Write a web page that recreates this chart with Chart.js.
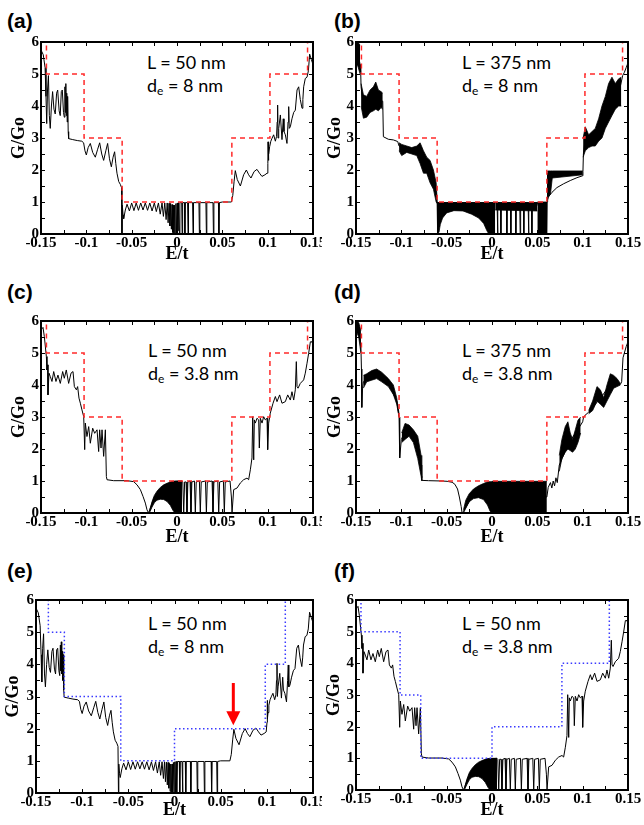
<!DOCTYPE html>
<html>
<head>
<meta charset="utf-8">
<script src="https://cdn.jsdelivr.net/npm/chart.js@4.4.0/dist/chart.umd.min.js"></script>
<style>
    body { margin: 0; background: #fff; width: 644px; height: 825px; position: relative; overflow: hidden; }
    canvas { position: absolute; }
    .tag { position: absolute; font: bold 21px 'Liberation Sans', Arial, sans-serif; line-height: 21px; color: #000; }
    .note { position: absolute; font: 18px Lato, 'Liberation Sans', sans-serif; line-height: 23px; color: #000; white-space: nowrap; }
    .note sub { font-size: 12px; vertical-align: -3px; line-height: 0; }
</style>
</head>
<body>
<div class="tag" style="left:7px;top:10px">(a)</div>
<div class="tag" style="left:334px;top:10px">(b)</div>
<div class="tag" style="left:7px;top:281px">(c)</div>
<div class="tag" style="left:334px;top:281px">(d)</div>
<div class="tag" style="left:7px;top:560px">(e)</div>
<div class="tag" style="left:334px;top:560px">(f)</div>

<div class="note" style="left:147px;top:51px">L = 50 nm<br>d<sub>e</sub> = 8 nm</div>
<div class="note" style="left:462px;top:51px">L = 375 nm<br>d<sub>e</sub> = 8 nm</div>
<div class="note" style="left:148px;top:339px">L = 50 nm<br>d<sub>e</sub> = 3.8 nm</div>
<div class="note" style="left:462px;top:339px">L = 375 nm<br>d<sub>e</sub> = 3.8 nm</div>
<div class="note" style="left:148px;top:612px">L = 50 nm<br>d<sub>e</sub> = 8 nm</div>
<div class="note" style="left:462px;top:612px">L = 50 nm<br>d<sub>e</sub> = 3.8 nm</div>

<script>
// axis ticks
const xTicks = [-0.15, -0.1, -0.05, 0, 0.05, 0.1, 0.15];
const xTickLabels = ['-0.15', '-0.1', '-0.05', '0', '0.05', '0.1', '0.15'];
const xMinor = [-0.15, -0.125, -0.1, -0.075, -0.05, -0.025, 0, 0.025, 0.05, 0.075, 0.1, 0.125, 0.15];
const yTicks = [0, 1, 2, 3, 4, 5, 6];
const yMinor = [0, 0.5, 1, 1.5, 2, 2.5, 3, 3.5, 4, 4.5, 5, 5.5, 6];

// ideal steps (red dashed, a-d)
const redStepE = [-0.15, -0.144, -0.1025, -0.0605, 0.0605, 0.1025, 0.144, 0.15];
const redStepG = [6, 5, 3, 1, 3, 5, 6, 6];
// ideal steps (blue dotted, e and f)
const blueStepE_e = [-0.15, -0.1366, -0.1193, -0.0582, 0.0, 0.0983, 0.12, 0.15];
const blueStepG_e = [6, 5, 3, 1, 2, 4, 6, 6];
const blueStepE_f = [-0.15, -0.1445, -0.1014, -0.0786, 0.0, 0.0771, 0.1294, 0.15];
const blueStepG_f = [6, 5, 3, 1, 2, 4, 6, 6];

// L = 50 nm, de = 8 nm  (panels a and e)
const curveA = [
    [-0.150,5.75],[-0.1475,5.6],[-0.1455,5.2],[-0.1445,4.3],[-0.1437,3.45],[-0.1428,4.5],[-0.1418,4.95],[-0.1408,3.7],
    [-0.1398,3.3],[-0.1385,4.0],[-0.1372,4.45],[-0.1357,3.9],[-0.1343,3.75],[-0.1328,4.4],[-0.1316,4.5],[-0.1300,3.85],
    [-0.1288,3.7],[-0.1276,4.45],[-0.1265,4.5],[-0.1252,3.8],[-0.1243,3.65],[-0.1236,4.6],[-0.1231,3.8],[-0.1226,4.7],
    [-0.1221,3.7],[-0.1216,4.4],[-0.1211,3.5],[-0.1206,4.3],[-0.1200,3.2],[-0.1195,2.98],[-0.115,2.95],[-0.110,2.92],
    [-0.105,2.9],[-0.103,2.85],[-0.1015,2.6],[-0.1000,2.47],[-0.098,2.7],[-0.0956,2.83],[-0.093,2.55],[-0.0901,2.4],
    [-0.0875,2.65],[-0.0853,2.85],[-0.083,2.5],[-0.0809,2.3],[-0.0785,2.6],[-0.0765,2.83],[-0.0745,2.35],[-0.0724,2.1],
    [-0.0705,2.4],[-0.0688,2.57],[-0.0675,2.2],[-0.0662,1.9],[-0.0643,1.64],[-0.0625,1.55],[-0.0612,1.45],[-0.0607,0],
    [-0.0603,0.9],[-0.0595,0.6],[-0.0588,0.48],[-0.057,0.75],[-0.0551,0.93],
    [-0.0525,0.72],[-0.050,0.97],[-0.0475,0.73],[-0.045,0.97],[-0.0425,0.74],[-0.040,0.97],[-0.0375,0.75],[-0.035,0.97],
    [-0.0325,0.74],[-0.030,0.97],[-0.0275,0.72],[-0.025,0.97],[-0.0228,0.7],[-0.0205,0.97],[-0.0185,0.62],[-0.0165,0.97],
    [-0.015,0.55],[-0.0135,0.97],[-0.012,0.45],[-0.0108,0.97],[-0.0098,0.35],[-0.0088,0.96],[-0.0078,0.25],[-0.0070,0.95],
    [-0.0062,0.15],[-0.0055,0.92],[-0.0048,0.05],[-0.0041,0.9],[-0.0034,0],[-0.0027,0.9],[-0.002,0],[-0.0012,0.95],
    [-0.0005,0],[0.0003,0.97],[0.001,0.1],[0.0017,0.98],
    [0.0022,0.98],[0.0027,0],[0.0032,0.98],[0.0052,0.98],[0.0057,0],[0.0062,0.98],[0.0082,0.98],[0.0087,0],[0.0092,0.98],
    [0.0117,0.98],[0.0122,0],[0.0127,0.98],[0.0172,0.98],[0.0177,0],[0.0182,0.98],[0.0242,0.98],[0.0247,0],[0.0252,0.98],
    [0.0319,0.98],[0.0324,0],[0.0329,0.98],[0.0397,0.98],[0.0402,0],[0.0407,0.98],[0.0457,0.98],[0.0462,0],[0.0467,0.98],
    [0.050,1.0],[0.060,1.0],[0.0615,1.2],[0.063,1.65],[0.0643,1.98],[0.0665,1.7],[0.0699,1.5],[0.0735,1.85],[0.0765,2.0],
    [0.079,1.85],[0.0816,1.75],[0.085,1.95],[0.0882,2.02],[0.091,1.9],[0.0937,1.8],[0.097,1.85],[0.0993,1.9],[0.1002,2.2],
    [0.1004,2.88],[0.1008,2.3],[0.1013,2.5],[0.1022,2.73],[0.1035,2.9],[0.1048,2.99],[0.1066,3.1],[0.1085,2.9],[0.1098,3.05],
    [0.1105,3.5],[0.111,4.03],[0.1114,3.0],[0.1122,3.3],[0.114,3.72],[0.1158,2.95],[0.1172,3.6],[0.118,3.2],[0.1195,3.1],
    [0.1213,2.83],[0.1225,3.5],[0.1232,3.98],[0.1238,3.3],[0.125,3.35],[0.1268,3.6],[0.1287,3.8],[0.1305,3.87],[0.1324,4.5],
    [0.1342,4.6],[0.136,4.2],[0.1379,3.93],[0.1388,4.2],[0.1397,4.6],[0.1415,4.86],[0.1434,4.9],[0.1449,5.1],[0.1463,5.62],
    [0.1482,5.45],[0.15,5.3]
];

// L = 50 nm, de = 3.8 nm  (panels c and f)
const curveC = [
    [-0.150,5.72],[-0.1478,5.8],[-0.1463,5.51],[-0.1441,4.89],[-0.1434,4.47],[-0.1426,4.63],[-0.1423,3.69],[-0.1412,4.37],
    [-0.1397,4.26],[-0.1379,4.11],[-0.136,4.42],[-0.1335,4.11],[-0.1313,4.31],[-0.1287,4.05],[-0.1261,4.42],[-0.1243,4.21],
    [-0.1221,4.47],[-0.1195,4.05],[-0.1169,4.37],[-0.1147,4.42],[-0.1132,3.95],[-0.111,3.85],[-0.1096,3.95],[-0.1081,3.59],
    [-0.1066,3.43],[-0.1048,3.22],[-0.1029,3.01],[-0.1018,1.98],[-0.1011,2.81],[-0.0993,2.39],[-0.0974,2.7],[-0.0956,2.18],
    [-0.093,2.65],[-0.0908,2.49],[-0.0882,2.6],[-0.0864,1.92],[-0.0853,2.6],[-0.0838,2.03],[-0.0827,2.6],[-0.0809,1.77],
    [-0.079,2.6],[-0.0779,1.14],[-0.0772,1.04],[-0.0699,1.01],[-0.0551,1.01],[-0.0478,0.98],[-0.0441,0.88],[-0.0404,0.73],
    [-0.0375,0.52],[-0.0349,0.31],[-0.0331,0.1],[-0.0313,0],[-0.0301,0.1],[-0.025,0.5],[-0.015,0.85],[-0.005,0.98],
    [0.0055,1.0],[0.0064,0.97],[0.0074,0],[0.0084,0.97],[0.0100,0.97],[0.011,0],[0.012,0.97],[0.0144,1.0],[0.0154,0],
    [0.0164,0.97],[0.0192,1.0],[0.0202,0],[0.0212,0.97],[0.0247,1.0],[0.0257,0],[0.0267,0.97],[0.0314,1.0],[0.0324,0],
    [0.0334,0.97],[0.0387,1.0],[0.0397,0],[0.0407,0.97],[0.045,1.0],[0.046,0],[0.047,0.97],[0.0512,1.0],[0.0522,0],
    [0.0532,0.97],[0.0585,1.0],[0.0600,0.5],[0.0607,0],[0.0625,0.73],[0.0662,0.78],[0.0699,0.94],[0.0735,1.04],
    [0.0772,1.09],[0.079,1.04],[0.0809,1.35],[0.0827,1.72],[0.0835,3.01],[0.0846,1.66],[0.0853,2.91],[0.0864,2.81],
    [0.0882,2.96],[0.0901,2.91],[0.0908,2.03],[0.0919,2.96],[0.0938,2.81],[0.0956,3.01],[0.0974,2.91],[0.0993,2.96],
    [0.1,1.98],[0.1011,2.81],[0.1029,3.12],[0.1059,3.43],[0.1085,3.64],[0.1103,3.48],[0.1132,3.69],[0.1158,3.43],
    [0.1195,3.48],[0.1221,3.69],[0.125,3.53],[0.1268,3.79],[0.1287,3.53],[0.1305,3.85],[0.1316,4.73],[0.1324,3.95],
    [0.1335,3.9],[0.136,4.05],[0.1397,4.16],[0.1415,4.37],[0.1434,4.68],[0.1452,4.99],[0.1471,5.35],[0.1489,5.35],[0.15,5.25]
];
// dense oscillation bands: [E, lower, upper]
const bandsC = [
    [[-0.0305,0,0.05],[-0.0276,0.18,0.35],[-0.025,0.32,0.55],[-0.0221,0.4,0.68],[-0.0184,0.43,0.8],[-0.0147,0.42,0.88],
     [-0.011,0.36,0.93],[-0.0074,0.24,0.97],[-0.0044,0.08,0.99],[-0.0022,0,1.0],[0.0055,0,1.0]]
];

// L = 375 nm, de = 8 nm  (panel b)
const curveB = [
    [-0.15,5.9],[-0.1475,5.6],[-0.1455,5.3],[-0.1448,5.05],[-0.1444,4.6],[-0.1418,4.0],[-0.1382,3.9],[-0.1308,4.2],
    [-0.1253,4.2],[-0.1205,4.15],[-0.1198,3.04],[-0.1143,2.96],[-0.1088,2.94],[-0.104,2.89],[-0.1025,2.75],[-0.094,2.65],
    [-0.083,2.6],[-0.0756,2.3],[-0.0683,2.0],[-0.0616,1.3],[-0.0605,1.0],[-0.0602,0.05],[-0.0598,0.98],[-0.004,0.98],
    [0.0035,0.98],[0.0056,0.98],[0.0061,0],[0.0066,0.98],[0.0093,0.98],[0.0098,0],[0.0103,0.98],[0.0159,0.98],[0.0164,0],
    [0.0169,0.98],[0.0203,0.98],[0.0208,0],[0.0213,0.98],[0.0258,0.98],[0.0263,0],[0.0268,0.98],[0.0306,0.98],[0.0311,0],
    [0.0316,0.98],[0.0346,0.98],[0.0351,0],[0.0356,0.98],[0.0398,0.98],[0.0403,0],[0.0408,0.98],[0.0435,0.98],[0.044,0],
    [0.0445,0.98],[0.05,0.98],[0.0605,0],[0.0609,1.0],[0.0612,1.9],[0.0615,1.1],[0.062,1.15],[0.0661,1.3],[0.0716,1.45],
    [0.079,1.57],[0.0863,1.67],[0.0937,1.76],[0.1,1.82],[0.1003,1.95],[0.1008,2.5],[0.1029,3.0],[0.11,3.0],[0.12,3.4],
    [0.13,4.2],[0.14,4.4],[0.1441,4.95],[0.146,5.05],[0.148,5.2],[0.15,5.35]
];
const bandsB = [
    [[-0.15,5.3,6.0],[-0.148,5.25,6.0],[-0.1455,5.0,5.9]],
    [[-0.1444,4.0,4.7],[-0.1418,3.62,4.35],[-0.1382,3.65,4.3],[-0.1345,3.8,4.5],[-0.1308,3.85,4.6],[-0.1282,3.9,4.75],
     [-0.1253,3.85,4.5],[-0.1224,3.95,4.45],[-0.1205,3.9,4.4]],
    [[-0.1025,2.6,2.85],[-0.0996,2.45,2.8],[-0.094,2.55,2.75],[-0.0885,2.5,2.7],[-0.083,2.45,2.75],[-0.0793,2.2,2.85],
     [-0.0756,1.9,2.6],[-0.072,1.9,2.4],[-0.0683,1.6,2.3],[-0.0646,1.4,2.0],[-0.0616,1.0,1.6],[-0.0605,0.95,1.05]],
    [[-0.0608,0,1.0],[-0.0585,0.05,0.98],[-0.057,0.3,0.98],[-0.0545,0.5,0.98],[-0.05,0.66,0.98],[-0.042,0.73,0.98],
     [-0.032,0.72,0.98],[-0.0225,0.62,0.98],[-0.0147,0.5,0.98],[-0.0092,0.33,0.98],[-0.0056,0.1,0.98],[-0.0035,0,0.98],
     [0.0035,0,0.98]],
    [[0.0035,0.75,0.98],[0.05,0.72,0.98]],
    [[0.05,0,1.0],[0.0607,0,1.0]],
    [[0.0609,1.0,1.95],[0.062,1.15,1.97],[0.0645,1.25,1.97],[0.0665,1.75,1.97],[0.1002,1.85,1.97]],
    [[0.1005,2.4,3.0],[0.1029,2.6,3.35],[0.1066,2.7,3.1],[0.1103,2.75,3.2],[0.1139,2.75,3.3],[0.1176,2.9,3.6],
     [0.1213,3.0,4.0],[0.125,3.3,4.3],[0.1286,3.5,4.7],[0.1323,3.7,4.9],[0.136,3.9,4.7],[0.1397,4.0,4.85],[0.1426,4.0,4.9]]
];

// L = 375 nm, de = 3.8 nm  (panel d)
const curveD = [
    [-0.15,5.95],[-0.147,5.7],[-0.1446,5.2],[-0.144,4.5],[-0.1436,3.3],[-0.1428,3.9],[-0.1419,4.1],[-0.1382,4.2],
    [-0.1272,4.35],[-0.1143,4.05],[-0.1051,3.5],[-0.1025,3.0],[-0.1018,1.72],[-0.1,2.3],[-0.0959,2.55],[-0.0867,2.4],
    [-0.0782,1.5],[-0.0775,1.02],[-0.07,1.01],[-0.055,1.0],[-0.0495,0.99],[-0.044,0.96],[-0.041,0.9],[-0.038,0.75],
    [-0.036,0.5],[-0.034,0.2],[-0.033,0],[-0.0315,0.05],[-0.02,0.6],[-0.005,0.6],[0.0,0.5],[0.0605,0.5],[0.062,0.8],
    [0.0645,0.95],[0.066,0.78],[0.0675,1.0],[0.069,0.85],[0.0705,1.1],[0.072,0.95],[0.0742,1.5],[0.085,2.2],[0.0978,2.75],
    [0.1,2.85],[0.101,3.0],[0.1025,3.05],[0.1066,3.15],[0.12,3.6],[0.13,4.0],[0.1416,4.02],[0.143,4.1],[0.1445,4.85],
    [0.146,5.0],[0.148,5.2],[0.15,5.35]
];
const bandsD = [
    [[-0.15,5.7,6.0],[-0.147,5.5,5.95],[-0.1446,5.0,5.7]],
    [[-0.1419,3.9,4.3],[-0.1382,4.1,4.35],[-0.1327,4.15,4.45],[-0.1272,4.2,4.5],[-0.1217,4.1,4.4],[-0.1143,3.95,4.2],
     [-0.1088,3.7,4.0],[-0.1051,3.4,3.6],[-0.1025,3.0,3.1]],
    [[-0.0996,2.2,2.5],[-0.0959,2.3,2.8],[-0.0915,2.4,2.75],[-0.0867,2.2,2.6],[-0.0819,1.7,2.4],[-0.0782,1.15,1.8],
     [-0.0775,1.02,1.1]],
    [[-0.0315,0,0.1],[-0.0289,0.15,0.4],[-0.0252,0.35,0.6],[-0.0204,0.45,0.75],[-0.0149,0.48,0.85],[-0.0094,0.42,0.92],
     [-0.005,0.25,0.97],[-0.002,0.05,0.98],[0.0,0,0.98]],
    [[0.0,0,0.99],[0.0605,0,0.99]],
    [[0.0742,1.3,1.8],[0.0771,1.7,2.3],[0.0808,1.9,2.7],[0.0837,2.0,2.85],[0.0863,1.95,2.5],[0.0889,1.9,2.3],
     [0.0919,2.0,2.6],[0.0948,2.2,2.9],[0.0978,2.5,3.0]],
    [[0.1066,3.1,3.2],[0.111,3.2,3.5],[0.1158,3.5,3.95],[0.1195,3.4,3.85],[0.1232,3.3,3.6],[0.1268,3.5,4.0],
     [0.1305,3.7,4.35],[0.1342,3.9,4.3],[0.1379,3.95,4.2],[0.1416,4.0,4.05]]
];

// red arrow in (e): [E, G at tail, G at tip]
const arrowE = [0.0637, 3.42, 2.11];

const RED = '#ff2a2a';
const BLUE = '#3a3aff';
const serif = "'Liberation Serif', 'Times New Roman', serif";

// frame with inward ticks on all four sides, plus optional arrow
const framePlugin = {
    id: 'frame',
    afterDatasetsDraw(chart, args, opts) {
        const { ctx, chartArea: a, scales: { x, y } } = chart;
        ctx.save();
        ctx.strokeStyle = '#000';
        ctx.lineWidth = 1;
        ctx.beginPath();
        xMinor.forEach(v => {
            const px = Math.round(x.getPixelForValue(v)) + 0.5;
            ctx.moveTo(px, a.bottom); ctx.lineTo(px, a.bottom - 4);
            ctx.moveTo(px, a.top); ctx.lineTo(px, a.top + 4);
        });
        yMinor.forEach(v => {
            const py = Math.round(y.getPixelForValue(v)) + 0.5;
            ctx.moveTo(a.left, py); ctx.lineTo(a.left + 4, py);
            ctx.moveTo(a.right, py); ctx.lineTo(a.right - 4, py);
        });
        ctx.stroke();
        ctx.lineWidth = 2;
        ctx.strokeRect(a.left, a.top, a.right - a.left, a.bottom - a.top);

        if (opts.arrow) {
            const ax = x.getPixelForValue(opts.arrow[0]);
            const y1 = y.getPixelForValue(opts.arrow[1]);
            const y2 = y.getPixelForValue(opts.arrow[2]);
            ctx.strokeStyle = '#ff0000';
            ctx.fillStyle = '#ff0000';
            ctx.lineWidth = 3;
            ctx.beginPath();
            ctx.moveTo(ax, y1); ctx.lineTo(ax, y2 - 12);
            ctx.stroke();
            ctx.beginPath();
            ctx.moveTo(ax - 7, y2 - 14); ctx.lineTo(ax + 7, y2 - 14); ctx.lineTo(ax, y2);
            ctx.closePath();
            ctx.fill();
        }
        ctx.restore();
    }
};

function toXY(pairs) {
    return pairs.map(p => ({ x: p[0], y: p[1] }));
}

function makePanel(p) {
    const canvas = document.createElement('canvas');
    canvas.width = p.w;
    canvas.height = p.h;
    canvas.style.left = p.left + 'px';
    canvas.style.top = p.top + 'px';
    document.body.appendChild(canvas);

    const datasets = [];
    // step reference line first, so it sits on top
    datasets.push({
        data: p.stepE.map((e, i) => ({ x: e, y: p.stepG[i] })),
        stepped: 'before',
        borderColor: p.stepColor,
        borderWidth: 1.5,
        borderDash: p.stepDash,
        fill: false
    });
    (p.bands || []).forEach(band => {
        datasets.push({
            data: band.map(b => ({ x: b[0], y: b[1] })),
            borderColor: '#000', borderWidth: 0.8, fill: false
        });
        datasets.push({
            data: band.map(b => ({ x: b[0], y: b[2] })),
            borderColor: '#000', borderWidth: 0.8,
            fill: '-1', backgroundColor: '#000'
        });
    });
    datasets.push({
        data: toXY(p.curve),
        borderColor: '#000', borderWidth: 1, fill: false
    });

    new Chart(canvas, {
        type: 'line',
        data: { datasets },
        plugins: [framePlugin],
        options: {
            responsive: false,
            animation: false,
            events: [],
            layout: { padding: { top: p.padTop, right: p.padRight, left: 0, bottom: 0 } },
            elements: { point: { radius: 0 }, line: { tension: 0 } },
            plugins: {
                legend: { display: false },
                tooltip: { enabled: false },
                frame: { arrow: p.arrow || null }
            },
            scales: {
                x: {
                    type: 'linear', min: -0.15, max: 0.15,
                    grid: { display: false, drawTicks: false },
                    border: { display: false },
                    afterBuildTicks: s => { s.ticks = xTicks.map(v => ({ value: v })); },
                    ticks: {
                        autoSkip: false, maxRotation: 0, padding: 0, color: '#000',
                        font: { family: serif, weight: 'bold', size: 15 },
                        callback: (v, i) => xTickLabels[i]
                    },
                    title: {
                        display: true, text: 'E/t', color: '#000',
                        font: { family: serif, weight: 'bold', size: 18 },
                        padding: { top: 0, bottom: p.xTitlePad }
                    },
                    afterFit: s => { s.height = p.xH; s.paddingLeft = 0; s.paddingRight = 0; }
                },
                y: {
                    type: 'linear', min: 0, max: 6,
                    grid: { display: false, drawTicks: false },
                    border: { display: false },
                    afterBuildTicks: s => { s.ticks = yTicks.map(v => ({ value: v })); },
                    ticks: {
                        padding: 2, color: '#000',
                        font: { family: serif, weight: 'bold', size: 15 }
                    },
                    title: {
                        display: true, text: 'G/Go', color: '#000',
                        font: { family: serif, weight: 'bold', size: 18 },
                        padding: { top: p.yTitlePad, bottom: 0 }
                    },
                    afterFit: s => { s.width = p.yW; s.paddingTop = 0; s.paddingBottom = 0; }
                }
            }
        }
    });
}

const redDash = [5, 4];
const blueDot = [1.5, 2.5];

makePanel({ left: 0, top: 30, w: 322, h: 240, yW: 41, padTop: 12, padRight: 9, xH: 36, yTitlePad: 9, xTitlePad: 5,
    curve: curveA, stepE: redStepE, stepG: redStepG, stepColor: RED, stepDash: redDash });
makePanel({ left: 322, top: 30, w: 322, h: 240, yW: 34, padTop: 12, padRight: 16, xH: 36, yTitlePad: 2.5, xTitlePad: 5,
    curve: curveB, bands: bandsB, stepE: redStepE, stepG: redStepG, stepColor: RED, stepDash: redDash });
makePanel({ left: 0, top: 300, w: 322, h: 250, yW: 41, padTop: 21, padRight: 9, xH: 37, yTitlePad: 9, xTitlePad: 2,
    curve: curveC, bands: bandsC, stepE: redStepE, stepG: redStepG, stepColor: RED, stepDash: redDash });
makePanel({ left: 322, top: 300, w: 322, h: 250, yW: 34, padTop: 21, padRight: 16, xH: 37, yTitlePad: 2.5, xTitlePad: 2,
    curve: curveD, bands: bandsD, stepE: redStepE, stepG: redStepG, stepColor: RED, stepDash: redDash });
makePanel({ left: 0, top: 560, w: 322, h: 265, yW: 36, padTop: 40, padRight: 9, xH: 32, yTitlePad: 3, xTitlePad: 4,
    curve: curveA, stepE: blueStepE_e, stepG: blueStepG_e, stepColor: BLUE, stepDash: blueDot, arrow: arrowE });
makePanel({ left: 322, top: 560, w: 322, h: 265, yW: 34, padTop: 40, padRight: 16, xH: 35, yTitlePad: 1.5, xTitlePad: 4,
    curve: curveC, bands: bandsC, stepE: blueStepE_f, stepG: blueStepG_f, stepColor: BLUE, stepDash: blueDot });
</script>
</body>
</html>
